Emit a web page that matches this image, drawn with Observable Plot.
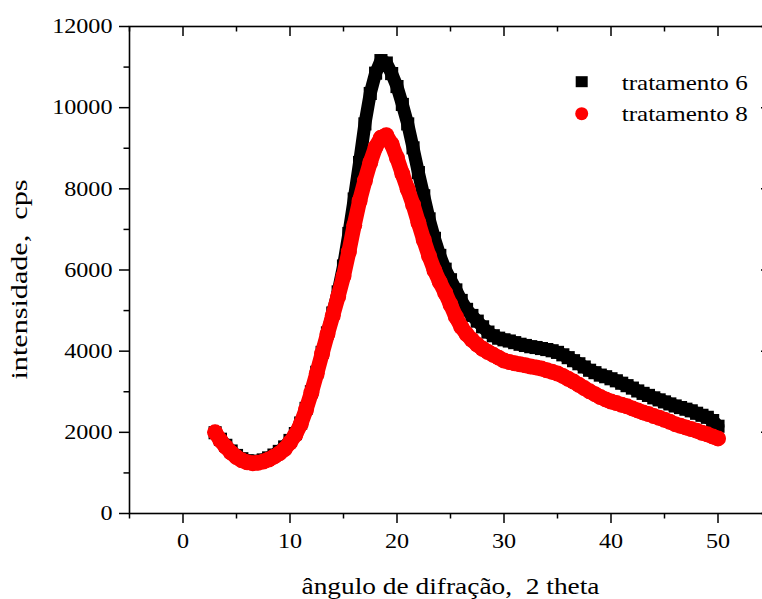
<!DOCTYPE html>
<html><head><meta charset="utf-8">
<script src="https://cdn.jsdelivr.net/npm/d3@7"></script>
<script src="https://cdn.jsdelivr.net/npm/@observablehq/plot@0.6"></script>
<style>
html,body{margin:0;padding:0;overflow:hidden;background:#fff;}
#chart svg{max-width:none !important;display:block;}
</style></head><body><div id="chart"></div>
<script>
// ---- data ----
const seriesNames = ["tratamento 6", "tratamento 8"];
const xTitle = "ângulo de difração,  2 theta";
const yTitle = "intensidade,  cps";
const angle = [3,3.5,4,4.5,5,5.5,6,6.5,7,7.5,8,8.5,9,9.5,10,10.5,11,11.5,12,12.5,13,13.5,14,14.5,15,15.5,16,16.5,17,17.5,18,18.5,19,19.5,20,20.5,21,21.5,22,22.5,23,23.5,24,24.5,25,25.5,26,26.5,27,27.5,28,28.5,29,29.5,30,30.5,31,31.5,32,32.5,33,33.5,34,34.5,35,35.5,36,36.5,37,37.5,38,38.5,39,39.5,40,40.5,41,41.5,42,42.5,43,43.5,44,44.5,45,45.5,46,46.5,47,47.5,48,48.5,49,49.5,50];
const tratamento6 = [1990,1830,1680,1540,1430,1350,1300,1280,1290,1320,1370,1440,1530,1640,1800,1970,2230,2590,3000,3480,3970,4450,4940,5460,6100,6900,7750,8650,9600,10350,10850,11160,11100,10840,10520,10080,9600,9010,8400,7830,7260,6780,6360,6020,5760,5510,5250,5030,4880,4740,4600,4470,4380,4320,4280,4250,4210,4170,4140,4110,4090,4065,4040,4010,3970,3910,3840,3765,3690,3610,3530,3470,3410,3370,3320,3270,3210,3150,3090,3020,2960,2910,2850,2800,2750,2700,2650,2610,2570,2530,2470,2420,2370,2290,2150];
const tratamento8 = [2000,1800,1640,1500,1390,1310,1260,1240,1250,1280,1330,1400,1480,1590,1750,1940,2200,2560,2980,3450,3940,4420,4880,5350,5850,6450,7100,7700,8200,8650,9030,9260,9320,9100,8760,8370,7990,7610,7170,6740,6340,5990,5700,5440,5150,4850,4600,4420,4280,4160,4060,3980,3910,3840,3770,3730,3700,3675,3650,3620,3600,3570,3530,3490,3450,3390,3320,3250,3170,3090,3010,2940,2870,2810,2760,2720,2680,2640,2590,2540,2490,2450,2400,2360,2310,2260,2200,2160,2120,2080,2040,1990,1950,1900,1850];
const xTicks = [0,10,20,30,40,50];
const xMinor = [-5,5,15,25,35,45];
const yTicks = [0,2000,4000,6000,8000,10000,12000];
const yMinor = [1000,3000,5000,7000,9000,11000];
const xDomain = [-5,55];
const yDomain = [0,12000];

const rows = angle.map((a,i) => ({angle:a, t6: tratamento6[i], t8: tratamento8[i]}));

// ---- layout ----
const W = 780, H = 599, mL = 129, mR = 9, mT = 26, mB = 86;
const fw = W - mL - mR, fh = H - mT - mB;
const black = "#000000", red = "#ff0000";
const serif = '"Liberation Serif","Times New Roman",serif';

const svg = Plot.plot({
  width: W, height: H,
  marginLeft: mL, marginRight: mR, marginTop: mT, marginBottom: mB,
  style: {fontFamily: serif, fontSize: "21px", color: "#000", background: "#fff", maxWidth: "none", overflow: "visible"},
  x: {domain: xDomain, axis: null},
  y: {domain: yDomain, axis: null},
  marks: [
    Plot.line(rows, {x: "angle", y: "t6", stroke: black, strokeWidth: 13}),
    Plot.dot(rows, {x: "angle", y: "t6", symbol: "square", r: 7.4, fill: black, stroke: "none"}),
    Plot.line(rows, {x: "angle", y: "t8", stroke: red, strokeWidth: 15}),
    Plot.dot(rows, {x: "angle", y: "t8", symbol: "circle", r: 8, fill: red, stroke: "none"}),
    Plot.frame({stroke: black, strokeWidth: 1.6}),
    Plot.axisX(xTicks, {anchor: "bottom", tickSize: 10, tickPadding: 10, strokeWidth: 1.5, tickFormat: d => String(d), fontSize: 21, label: null}),
    Plot.axisY(yTicks, {anchor: "left", tickSize: 10, tickPadding: 7, strokeWidth: 1.5, tickFormat: d => String(d), fontSize: 21, label: null}),
    Plot.tickX(xMinor, {x: d => d, insetTop: fh, insetBottom: -5.5, stroke: black, strokeWidth: 1.5}),
    Plot.tickY(yMinor, {y: d => d, insetLeft: -5.5, insetRight: fw, stroke: black, strokeWidth: 1.5}),
    Plot.tickX(xTicks, {x: d => d, insetBottom: fh - 10, stroke: black, strokeWidth: 1.5}),
    Plot.tickX(xMinor, {x: d => d, insetBottom: fh - 5.5, stroke: black, strokeWidth: 1.5}),
    Plot.tickY(yTicks, {y: d => d, insetLeft: fw - 10, stroke: black, strokeWidth: 1.5}),
    Plot.tickY(yMinor, {y: d => d, insetLeft: fw - 5.5, stroke: black, strokeWidth: 1.5}),
    Plot.text([xTitle], {text: d => d, frameAnchor: "bottom", textAnchor: "middle", lineAnchor: "middle", dy: 73, fontSize: 23, fill: black}),
    Plot.text([yTitle], {text: d => d, frameAnchor: "left", textAnchor: "middle", lineAnchor: "middle", rotate: -90, dx: -110, dy: 9.5, fontSize: 23, fill: black})
  ]
});
document.getElementById("chart").appendChild(svg);

// legend
const lg = d3.select(svg).append("g").attr("font-family", serif).attr("font-size", 21).attr("text-anchor", "start");
lg.append("rect").attr("x", 575.7).attr("y", 76.2).attr("width", 12).attr("height", 11).attr("fill", black);
lg.append("circle").attr("cx", 581.7).attr("cy", 113.7).attr("r", 6.5).attr("fill", red);
lg.append("text").attr("x", 621.7).attr("y", 90).attr("fill", black).attr("text-anchor", "start").attr("class", "lgtext").text(seriesNames[0]);
lg.append("text").attr("x", 621.7).attr("y", 120.7).attr("fill", black).attr("text-anchor", "start").attr("class", "lgtext").text(seriesNames[1]);

// horizontal stretch of the serif text (the reference font is set wide)
function stretchTo(t, len) {
  t.setAttribute("textLength", len);
  t.setAttribute("lengthAdjust", "spacingAndGlyphs");
}
svg.querySelectorAll('g[aria-label="x-axis tick label"] text, g[aria-label="y-axis tick label"] text')
  .forEach(t => stretchTo(t, (t.getComputedTextLength() * 1.15).toFixed(2)));
svg.querySelectorAll('g[aria-label="text"] text')
  .forEach(t => stretchTo(t, t.textContent === xTitle ? 298 : 200));
svg.querySelectorAll('text.lgtext').forEach(t => stretchTo(t, 126));
</script>
</body></html>
